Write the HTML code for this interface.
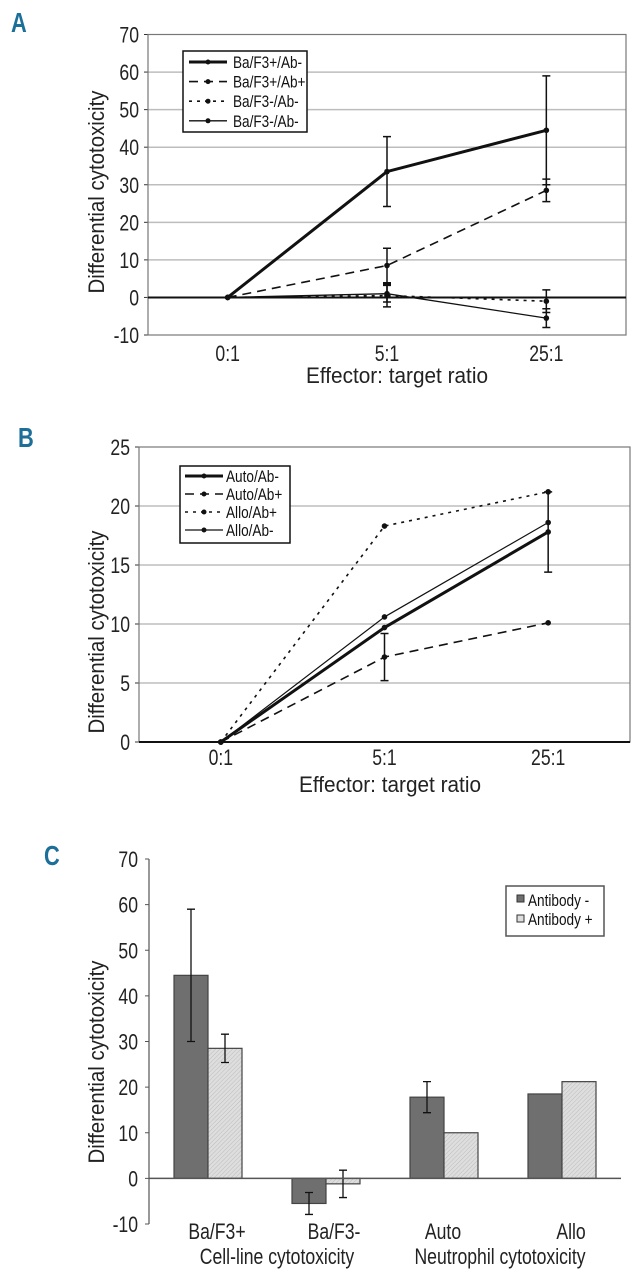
<!DOCTYPE html>
<html><head><meta charset="utf-8">
<style>
html,body{margin:0;padding:0;background:#fff;overflow:hidden;}
svg{display:block;font-family:"Liberation Sans",sans-serif;}
.tk{font-size:22px;fill:#222;}
.pl{font-family:"Liberation Sans",sans-serif;font-weight:bold;font-size:28px;fill:#1b6f99;}
.lg{font-size:17px;fill:#111;}
</style></head>
<body>
<svg id="fig" width="635" height="1280" viewBox="0 0 635 1280">
  <text class="pl" transform="translate(11,32) scale(0.78,1)">A</text>
  <text class="pl" transform="translate(18,447) scale(0.78,1)">B</text>
  <text class="pl" transform="translate(44,865) scale(0.78,1)">C</text>
  <g id="chartA"></g>
  <g id="chartB"></g>
  <g id="chartC"></g>
</svg>
<script>
// ---- Chart A data ----
const catsA = ["0:1","5:1","25:1"];
const ticksA = [-10,0,10,20,30,40,50,60,70];
const seriesNamesA = ["Ba/F3+/Ab-","Ba/F3+/Ab+","Ba/F3-/Ab-","Ba/F3-/Ab-"];
const a1 = [0,33.5,44.5];
const a1Err = [0,9.3,14.5];
const a2 = [0,8.5,28.5];
const a2Err = [0,4.6,3];
const a3 = [0,0.5,-1];
const a3Err = [0,3,3];
const a4 = [0,1,-5.5];
const a4Err = [0,2.2,2.5];
// ---- Chart B data ----
const catsB = ["0:1","5:1","25:1"];
const ticksB = [0,5,10,15,20,25];
const seriesNamesB = ["Auto/Ab-","Auto/Ab+","Allo/Ab+","Allo/Ab-"];
const b1 = [0,9.7,17.8];
const b1Err = [0,0,3.4];
const b2 = [0,7.2,10.1];
const b2Err = [0,2,0];
const b3 = [0,18.3,21.2];
const b4 = [0,10.6,18.6];
// ---- Chart C data ----
const catsC = ["Ba/F3+","Ba/F3-","Auto","Allo"];
const ticksC = [-10,0,10,20,30,40,50,60,70];
const abNeg = [44.5,-5.5,17.8,18.5];
const abNegErr = [14.5,2.4,3.4,0];
const abPos = [28.5,-1.2,10,21.2];
const abPosErr = [3.1,3,0,0];

const NS="http://www.w3.org/2000/svg";
const SX=0.8;
function mk(parent,tag,attrs,text){const e=document.createElementNS(NS,tag);for(const k in attrs)e.setAttribute(k,attrs[k]);if(text!==undefined)e.textContent=text;parent.appendChild(e);return e;}
function txt(parent,x,y,str,cls,anchor,extra){
  const a={x:0,y:0,class:cls,'text-anchor':anchor||'start',transform:`translate(${x},${y}) scale(${SX},1)`};
  if(extra)for(const k in extra)a[k]=extra[k];
  return mk(parent,'text',a,str);
}

function lineChart(g,cfg){
  const {L,R,T,B,ymin,ymax,cats,ticks,series,legend}=cfg;
  const y=v=>B-(v-ymin)/(ymax-ymin)*(B-T);
  const band=(R-L)/cats.length;
  const x=i=>L+band*(i+0.5);
  ticks.forEach(t=>{
    if(t!==ymin && t!==0 && t!==ymax){
      const gl=mk(g,'line',{x1:L,x2:R,y1:y(t),y2:y(t),stroke:'#bdbdbd','stroke-width':1.5});
      
      
    }
    const tl=txt(g,L-9,y(t)+8,String(t),'tk','end');
    
    
    const tm=mk(g,'line',{x1:L-4,x2:L,y1:y(t),y2:y(t),stroke:'#333'});
    
    
  });
  const fr=mk(g,'rect',{x:L,y:T,width:R-L,height:B-T,fill:'none',stroke:'#777','stroke-width':1.2});
  
  
  const zl=mk(g,'line',{x1:L,x2:R,y1:y(0),y2:y(0),stroke:'#111','stroke-width':2});
  
  
  cats.forEach((c,i)=>{
    const t=txt(g,x(i),cfg.xlabY,c,'tk','middle');
    
    
  });
  series.forEach(s=>{
    const pts=s.vals.map((v,i)=>x(i)+','+y(v)).join(' ');
    const pl=mk(g,'polyline',{points:pts,fill:'none',stroke:'#111','stroke-width':s.w,'stroke-dasharray':s.dash||''});
    
    
    s.vals.forEach((v,i)=>{
      const m=mk(g,'circle',{cx:x(i),cy:y(v),r:2.8,fill:'#111'});
      
      
      const e=s.err?s.err[i]:0;
      if(e>0){
        const eg=mk(g,'path',{d:`M${x(i)},${y(v+e)}V${y(v-e)}M${x(i)-4},${y(v+e)}h8M${x(i)-4},${y(v-e)}h8`,stroke:'#111','stroke-width':1.5,fill:'none'});
        
        
      }
    });
  });
  const yt=mk(g,'text',{x:0,y:0,transform:`translate(${cfg.ytX},${cfg.ytY}) rotate(-90)`,'text-anchor':'middle',class:'tk','font-size':'22',textLength:203,lengthAdjust:'spacingAndGlyphs'},'Differential cytotoxicity');
  
  
  const xt=mk(g,'text',{x:cfg.xtX,y:cfg.xtY,'text-anchor':'middle',class:'tk','font-size':'22',textLength:182,lengthAdjust:'spacingAndGlyphs'},'Effector: target ratio');
  
  
  const lg=legend;
  const lb=mk(g,'rect',{x:lg.x,y:lg.y,width:lg.w,height:lg.h,fill:'#fff',stroke:'#111','stroke-width':1.5});
  
  
  series.forEach((s,i)=>{
    const yy=lg.y+lg.pad+i*lg.step;
    const ll=mk(g,'line',{x1:lg.lx1,x2:lg.lx2,y1:yy,y2:yy,stroke:'#111','stroke-width':s.w,'stroke-dasharray':s.dash||''});
    
    
    const lm=mk(g,'circle',{cx:(lg.lx1+lg.lx2)/2,cy:yy,r:2.5,fill:'#111'});
    
    
    const lt=txt(g,lg.tx,yy+6,s.name,'lg','start',{'font-size':lg.fs});
    
    
  });
}

lineChart(document.getElementById('chartA'),{
  L:148,R:626,T:34.5,B:335,ymin:-10,ymax:70,cats:catsA,ticks:ticksA,
  xlabY:361,xtX:397,xtY:383,ytX:104,ytY:192,
  legend:{x:183,y:51,w:124,h:81,pad:11,step:19.6,lx1:189,lx2:227,tx:233,fs:17},
  series:[
    {id:'ba-f3-pos-ab-neg',name:seriesNamesA[0],vals:a1,err:a1Err,w:3},
    {id:'ba-f3-pos-ab-pos',name:seriesNamesA[1],vals:a2,err:a2Err,w:1.6,dash:'9,6'},
    {id:'ba-f3-neg-ab-neg-dotted',name:seriesNamesA[2],vals:a3,err:a3Err,w:1.6,dash:'3,5'},
    {id:'ba-f3-neg-ab-neg',name:seriesNamesA[3],vals:a4,err:a4Err,w:1.3}
  ]
});
lineChart(document.getElementById('chartB'),{
  L:139,R:630,T:447,B:742,ymin:0,ymax:25,cats:catsB,ticks:ticksB,
  xlabY:765,xtX:390,xtY:792,ytX:104,ytY:632,
  legend:{x:180,y:466,w:110,h:77,pad:10,step:18,lx1:185,lx2:223,tx:226,fs:17},
  series:[
    {id:'auto-ab-neg',name:seriesNamesB[0],vals:b1,err:b1Err,w:3},
    {id:'auto-ab-pos',name:seriesNamesB[1],vals:b2,err:b2Err,w:1.6,dash:'9,6'},
    {id:'allo-ab-pos',name:seriesNamesB[2],vals:b3,w:1.6,dash:'3,5'},
    {id:'allo-ab-neg',name:seriesNamesB[3],vals:b4,w:1.2}
  ]
});

// ---- Chart C ----
(function(){
  const g=document.getElementById('chartC');
  const defs=mk(g,'defs',{});
  const pat=mk(defs,'pattern',{id:'hatch',width:3,height:3,patternUnits:'userSpaceOnUse',patternTransform:'rotate(45)'});
  mk(pat,'rect',{width:3,height:3,fill:'#dedede'});
  mk(pat,'line',{x1:0,y1:0,x2:0,y2:3,stroke:'#bcbcbc','stroke-width':1});
  const L=149,R=621,T=859,B=1224,ymin=-10,ymax=70;
  const y=v=>B-(v-ymin)/(ymax-ymin)*(B-T);
  const band=118, bw=34;
  const cx=i=>L+band*(i+0.5);
  const ax=mk(g,'line',{x1:L,x2:L,y1:T,y2:B,stroke:'#555','stroke-width':1.2});
  
  
  ticksC.forEach(t=>{
    const tm=mk(g,'line',{x1:L-4,x2:L,y1:y(t),y2:y(t),stroke:'#555'});
    
    
    const tl=txt(g,L-11,y(t)+8,String(t),'tk','end');
    
    
  });
  function bar(v,e,x0,fill,name){
    const y0=y(0),y1=y(v);
    const r=mk(g,'rect',{x:x0,y:Math.min(y0,y1),width:bw,height:Math.abs(y1-y0),fill:fill,stroke:'#444','stroke-width':1.2});
    
    
    if(e>0){
      const xm=x0+bw/2;
      const p=mk(g,'path',{d:`M${xm},${y(v+e)}V${y(v-e)}M${xm-4},${y(v+e)}h8M${xm-4},${y(v-e)}h8`,stroke:'#111','stroke-width':1.3,fill:'none'});
      
      
    }
  }
  catsC.forEach((c,i)=>{
    bar(abNeg[i],abNegErr[i],cx(i)-bw,'#6f6f6f','bar-antibody-neg');
    bar(abPos[i],abPosErr[i],cx(i),'url(#hatch)','bar-antibody-pos');
  });
  const zl=mk(g,'line',{x1:L,x2:R,y1:y(0),y2:y(0),stroke:'#555','stroke-width':1.5});
  
  
  const labX=[217,334,443,571];
  catsC.forEach((c,i)=>{
    const t=txt(g,labX[i],1239,c,'tk','middle',{'font-size':20});
    
    
  });
  const g1=txt(g,277,1264,'Cell-line cytotoxicity','tk','middle',{'font-size':20});
  
  
  const g2=txt(g,500,1264,'Neutrophil cytotoxicity','tk','middle',{'font-size':20});
  
  
  const yt=mk(g,'text',{x:0,y:0,transform:`translate(104,1062) rotate(-90)`,'text-anchor':'middle',class:'tk','font-size':'22',textLength:203,lengthAdjust:'spacingAndGlyphs'},'Differential cytotoxicity');
  
  
  const lb=mk(g,'rect',{x:506,y:886,width:98,height:50,fill:'#fff',stroke:'#555','stroke-width':1.5});
  
  
  const s1=mk(g,'rect',{x:517,y:895,width:7,height:7,fill:'#6f6f6f',stroke:'#333'});
  
  
  const t1=txt(g,528,906,'Antibody -','lg','start',{'font-size':17});
  
  
  const s2=mk(g,'rect',{x:517,y:915,width:7,height:7,fill:'#ddd',stroke:'#333'});
  
  
  const t2=txt(g,528,925,'Antibody +','lg','start',{'font-size':17});
  
  
})();
</script>
</body></html>
